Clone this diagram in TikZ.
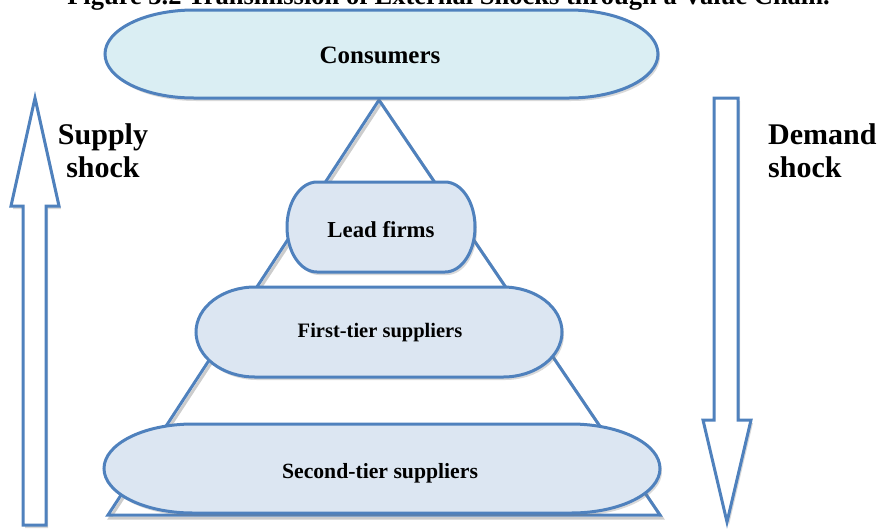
\documentclass[tikz,border=0pt]{standalone}
\usepackage{fontspec}
\setmainfont{Liberation Serif}
\usetikzlibrary{calc,shadows}

\definecolor{edgeblue}{HTML}{4F81BD}
\definecolor{consfill}{HTML}{DAEEF3}
\definecolor{tierfill}{HTML}{DCE6F2}

\tikzset{
  softshadow/.style={drop shadow={shadow xshift=2pt, shadow yshift=-3pt, opacity=0.3}},
  termline/.style={draw=edgeblue, line width=3pt, softshadow},
  arrowline/.style={draw=edgeblue, line width=3pt, fill=white, softshadow},
  tiertext/.style={inner sep=0pt, anchor=base, font=\fontsize{#1}{#1}\selectfont\bfseries},
  shocktext/.style={inner sep=0pt, anchor=base, font=\fontsize{30}{33}\selectfont\bfseries}
}

% terminator box: left, top, right, bottom, end radius, fill
\newcommand{\termpath}[6]{%
  \draw[termline, fill=#6] ({#1+#5},-#2) -- ({#3-#5},-#2)
    arc[start angle=90, end angle=-90, x radius=#5, y radius={(#4-#2)/2}]
    -- ({#1+#5},-#4)
    arc[start angle=270, end angle=90, x radius=#5, y radius={(#4-#2)/2}] -- cycle;}

\begin{document}
\begin{tikzpicture}[x=1pt, y=1pt]
	\useasboundingbox (0,0) rectangle (880,-531);
	
	% title, cut by the top edge
	\node[tiertext=26.5] (title) at (448.5,-4) {Figure 3.2 Transmission of External Shocks through a Value Chain.};
	
	% pyramid
	\coordinate (T) at (379,-100);
	\coordinate (BL) at (108,-515);
	\coordinate (BR) at (660,-515);
	\draw[black, opacity=0.2, line width=3pt] ([shift={(2,-3)}]T) -- ([shift={(2,-3)}]BL) -- ([shift={(2,-3)}]BR) -- cycle;
	\draw[edgeblue, line width=3pt] (T) -- (BL) -- (BR) -- cycle;
	
	% supply shock arrow (up)
	\draw[arrowline] (23,-525) -- (23,-206) -- (11,-206) -- (35,-98) -- (59,-206)
		-- (46,-206) -- (46,-525) -- cycle;
	% demand shock arrow (down)
	\draw[arrowline] (714,-98) -- (738,-98) -- (738,-420) -- (751,-420) -- (727,-522)
		-- (703,-420) -- (714,-420) -- cycle;
	
	% boxes of the chain
	\termpath{105}{10}{658}{98}{89}{consfill}
	\termpath{287}{182}{475}{272}{30}{tierfill}
	\termpath{196}{287}{562}{377}{59}{tierfill}
	\termpath{104}{424}{660}{513}{89}{tierfill}
	
	\node[tiertext=25] (cons) at (380,-63) {Consumers};
	\node[tiertext=22.8] (lead) at (381,-237) {Lead firms};
	\node[tiertext=20.5] (first) at (380,-337) {First-tier suppliers};
	\node[tiertext=21.7] (second) at (380,-478) {Second-tier suppliers};
	
	% base anchor sits on the last line
	\node[shocktext, align=center] (supply) at (103,-177) {Supply\\shock};
	\node[shocktext, align=left, anchor=base west] (demand) at (768,-177) {Demand\\shock};
\end{tikzpicture}
\end{document}
